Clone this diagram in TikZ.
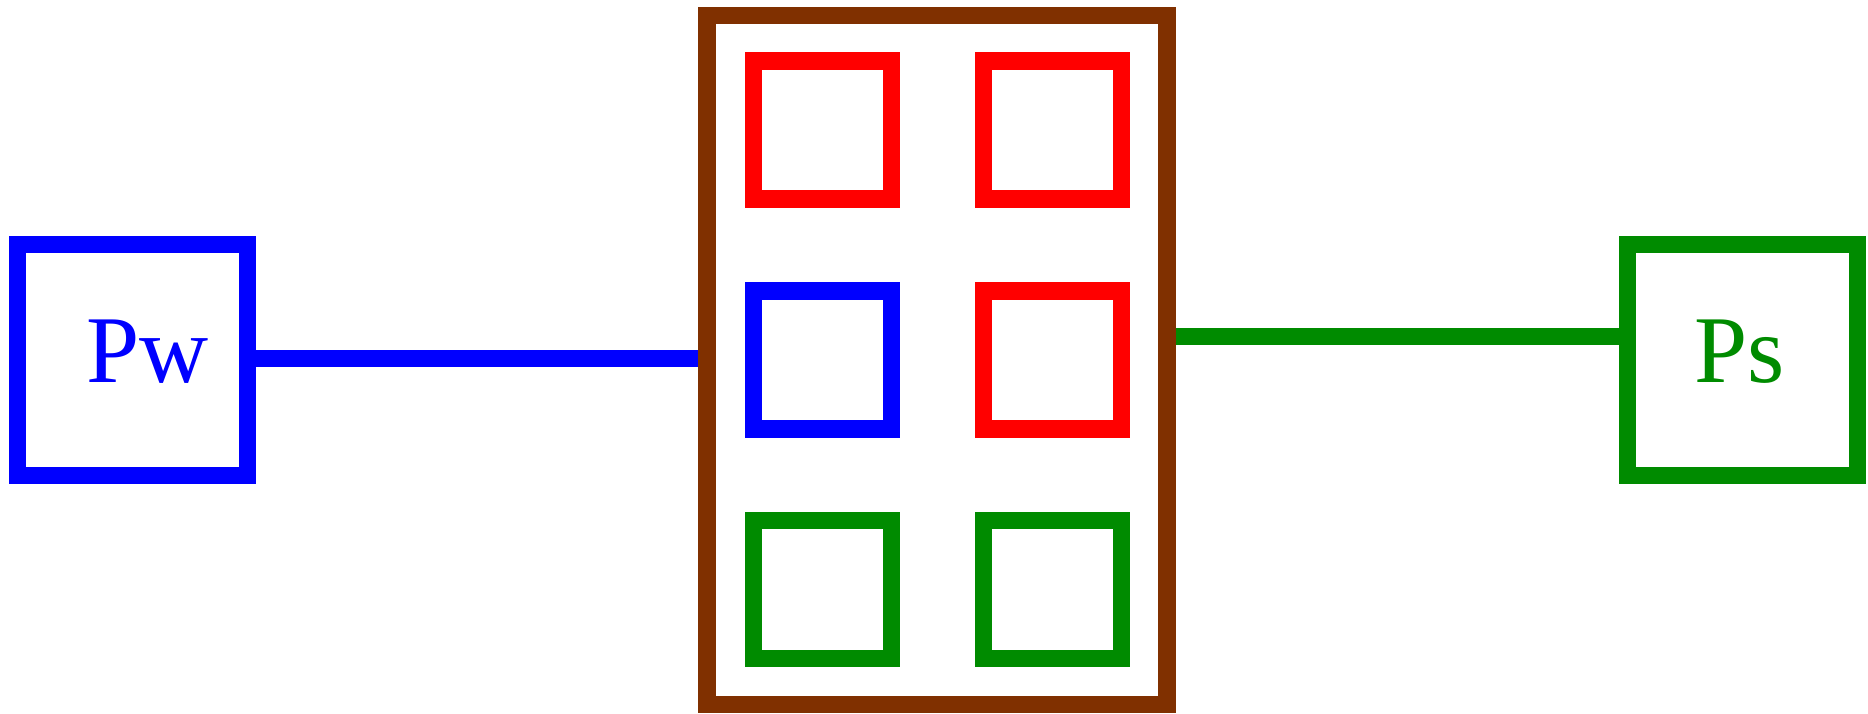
\documentclass[tikz,border=0pt]{standalone}
\usepackage{fontspec}
\setmainfont{Liberation Serif}
\definecolor{cblue}{RGB}{0,0,255}
\definecolor{cred}{RGB}{255,0,0}
\definecolor{cgreen}{RGB}{0,139,0}
\definecolor{cbrown}{RGB}{128,48,0}
\begin{document}
\begin{tikzpicture}[x=0.025cm,y=-0.025cm,
  thick box/.style={draw=#1,line width=0.4325cm,inner sep=0pt},
  outerbox/.style={thick box=#1,minimum width=230*0.025cm,minimum height=231*0.025cm},
  cell/.style={thick box=#1,minimum width=138*0.025cm,minimum height=138*0.025cm},
  link/.style={draw=#1,line width=0.42cm},
  lab/.style={text=#1,anchor=base,inner sep=0pt,font=\fontsize{68}{80}\selectfont}]
\useasboundingbox (0,0) rectangle (1868,713);
% end boxes
\node[outerbox=cblue] (Pw) at (132.5,360) {};
\node[outerbox=cgreen] (Ps) at (1742.8,360) {};
\node[lab=cblue] (PwT) at (147.5,382) {Pw};
\node[lab=cgreen] (PsT) at (1740,382) {Ps};
% central box
\node[thick box=cbrown,minimum width=460*0.025cm,minimum height=689*0.025cm] (brown) at (937,360) {};
% cells
\node[cell=cred] (c11) at (822.5,130) {};
\node[cell=cred] (c12) at (1052.4,130) {};
\node[cell=cblue] (c21) at (822.5,360) {};
\node[cell=cred] (c22) at (1052.4,360) {};
\node[cell=cgreen] (c31) at (822.5,589.8) {};
\node[cell=cgreen] (c32) at (1052.4,589.8) {};
% connectors
\draw[link=cblue] ([yshift=0.0425cm]Pw.east) -- ([yshift=0.0425cm]Pw.east -| brown.west);
\draw[link=cgreen] ([yshift=0.5925cm]brown.east |- Ps.west) -- ([yshift=0.5925cm]Ps.west);
\end{tikzpicture}
\end{document}
